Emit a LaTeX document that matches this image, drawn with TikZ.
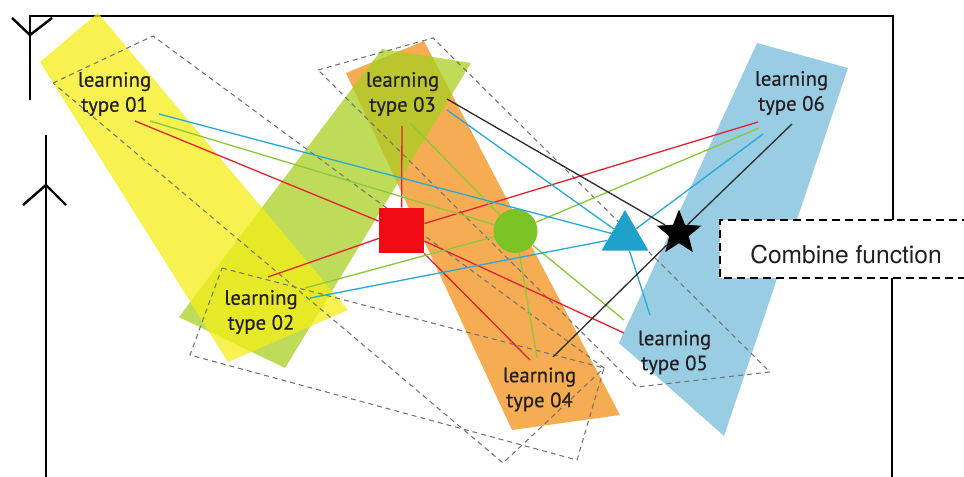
\documentclass[tikz,border=0pt]{standalone}
\usepackage{fontspec}
\usepackage{xcolor}
\usepackage{tikz}
\usetikzlibrary{shapes.geometric, calc}

\newfontfamily\typefont[FakeBold=0.5]{PT Sans}
\newfontfamily\boxfont{TeX Gyre Heros}

\definecolor{bandyellow}{RGB}{244,238,22}
\definecolor{bandgreen}{RGB}{168,208,35}
\definecolor{bandorange}{RGB}{246,172,82}
\definecolor{bandblue}{RGB}{153,205,228}
\definecolor{linered}{RGB}{228,35,50}
\definecolor{linegreen}{RGB}{140,200,60}
\definecolor{lineblue}{RGB}{40,170,215}
\definecolor{linedark}{RGB}{45,45,45}
\definecolor{symred}{RGB}{240,10,20}
\definecolor{symgreen}{RGB}{124,194,36}
\definecolor{symblue}{RGB}{30,162,204}
\definecolor{textdark}{RGB}{35,31,32}

\begin{document}
\begin{tikzpicture}[
        x=0.2mm, y=-0.2mm,
        % Style for the learning type labels
        typelabel/.style={
            align=center,
            inner sep=0pt,
            text=textdark,
            font=\typefont\fontsize{11.8}{14.2}\selectfont
        },
        % Style for the four combining symbols
        symbol/.style={draw=none, inner sep=0pt},
        ghost/.style={draw=black!55, line width=0.6pt, dash pattern=on 1mm off 0.8mm},
        wire/.style={line width=0.75pt},
        frame/.style={line width=1.4pt},
        boxline/.style={line width=1pt, dash pattern=on 1.6mm off 1mm}
    ]
    \useasboundingbox (0,0) rectangle (964,477);

    % ==========================================
    % OUTER FRAME
    % ==========================================
    \draw[frame] (30,100) -- (30,16) -- (893,16) -- (893,220);
    \draw[frame] (12,18) -- (30,35) -- (52,18);
    \draw[frame] (46,477) -- (46,135);
    \draw[frame] (23,205) -- (46,185) -- (66,205);
    \draw[frame] (892,278) -- (892,477);

    % ==========================================
    % COLOURED BANDS
    % ==========================================
    \fill[bandorange] (346,73) -- (424,41) -- (620,415) -- (512,430) -- cycle;
    \fill[bandblue] (757,43) -- (848,68) -- (724,436) -- (619,343) -- cycle;
    \fill[bandgreen, fill opacity=0.75] (382,49) -- (471,63) -- (285,368) -- (179,317) -- cycle;
    \fill[bandyellow, fill opacity=0.75] (40,62) -- (98,13) -- (348,310) -- (228,362) -- cycle;

    % dashed outlines
    \draw[ghost] (53,83) -- (153,36) -- (604,368) -- (503,463) -- cycle;
    \draw[ghost] (222,268) -- (604,368) -- (577,460) -- (190,355) -- cycle;
    \draw[ghost] (318,70) -- (433,38) -- (770,372) -- (637,387) -- cycle;

    % ==========================================
    % LABELS AND SYMBOLS
    % ==========================================
    \node[typelabel] (l01) at (114.5,94) {learning\\type 01};
    \node[typelabel] (l02) at (261,312) {learning\\type 02};
    \node[typelabel] (l03) at (402.5,94) {learning\\type 03};
    \node[typelabel] (l04) at (539.5,389.5) {learning\\type 04};
    \node[typelabel] (l05) at (674.5,352.5) {learning\\type 05};
    \node[typelabel] (l06) at (791.5,93) {learning\\type 06};

    % line ends next to the labels
    \coordinate (l01r) at (135,121);
    \coordinate (l01g) at (150,121);
    \coordinate (l01b) at (159,114);
    \coordinate (l02r) at (268,277);
    \coordinate (l02g) at (305,288);
    \coordinate (l02b) at (310,298);
    \coordinate (l03r) at (402,126);
    \coordinate (l03g) at (410,123);
    \coordinate (l03b) at (447,110);
    \coordinate (l03k) at (447,99);
    \coordinate (l04r) at (530,360);
    \coordinate (l04g) at (537,358);
    \coordinate (l04k) at (553,357);
    \coordinate (l05r) at (624,333);
    \coordinate (l05g) at (624,320);
    \coordinate (l05b) at (650,315);
    \coordinate (l06r) at (758,122);
    \coordinate (l06g) at (759,128);
    \coordinate (l06b) at (763,134);
    \coordinate (l06k) at (792,124);

    \node[symbol, rectangle, fill=symred, minimum size=9mm] (s-red) at (401.5,230.5) {};
    \node[symbol, circle, fill=symgreen, minimum size=8.8mm] (s-green) at (515.5,231) {};
    \node[symbol, regular polygon, regular polygon sides=3, fill=symblue, minimum size=10.8mm] (s-blue) at (625,237) {};
    \node[symbol, star, star points=5, star point ratio=2.3, fill=black, minimum size=9.4mm] (s-black) at (679,233) {};

    % red connectors
    \draw[wire, linered] (l01r) -- (s-red);
    \draw[wire, linered] (l02r) -- (s-red);
    \draw[wire, linered] (l03r) -- (s-red);
    \draw[wire, linered] (l04r) -- (s-red);
    \draw[wire, linered] (l05r) -- (s-red);
    \draw[wire, linered] (l06r) -- (s-red);
    % green connectors
    \draw[wire, linegreen] (l01g) -- (s-green);
    \draw[wire, linegreen] (l02g) -- (s-green);
    \draw[wire, linegreen] (l03g) -- (s-green);
    \draw[wire, linegreen] (l04g) -- (s-green);
    \draw[wire, linegreen] (l05g) -- (s-green);
    \draw[wire, linegreen] (l06g) -- (s-green);
    % blue connectors
    \draw[wire, lineblue] (l01b) -- (s-blue);
    \draw[wire, lineblue] (l02b) -- (s-blue);
    \draw[wire, lineblue] (l03b) -- (s-blue);
    \draw[wire, lineblue] (l05b) -- (s-blue);
    \draw[wire, lineblue] (l06b) -- (s-blue);
    % black connectors
    \draw[wire, linedark] (l03k) -- (s-black);
    \draw[wire, linedark] (l04k) -- (s-black);
    \draw[wire, linedark] (l06k) -- (s-black);

    % ==========================================
    % COMBINE FUNCTION BOX
    % ==========================================
    \fill[white] (720,220) rectangle (964,278);
    \draw[boxline] (970,220) -| (720,278) -- (970,278);
    \node[font=\boxfont\fontsize{14}{16}\selectfont, text=textdark] (comb) at (846,255) {Combine function};

\end{tikzpicture}
\end{document}
